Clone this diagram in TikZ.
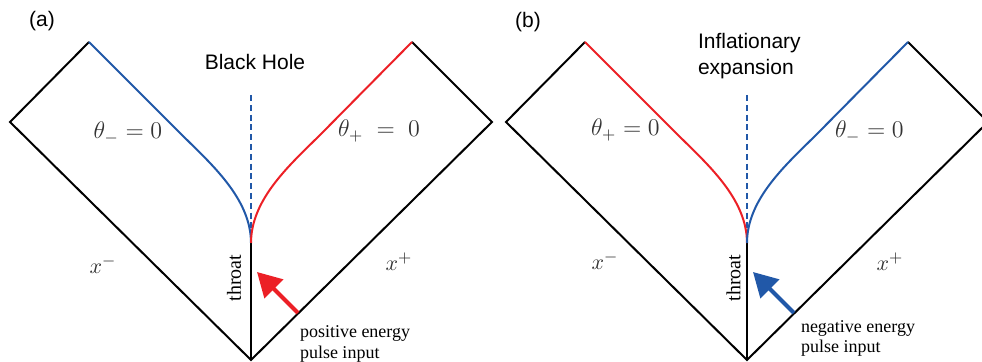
\documentclass[tikz,border=0pt]{standalone}
\usepackage{fontspec}
\setmainfont{Liberation Serif}
\setsansfont{Liberation Sans}
\usetikzlibrary{arrows.meta}
\definecolor{hblue}{RGB}{33,88,168}
\definecolor{hred}{RGB}{236,32,38}

\begin{document}
\begin{tikzpicture}[x=0.5pt, y=-0.5pt, line width=1pt, line join=miter,
  horizon/.style={line width=1pt},
  throatdash/.style={hblue, line width=1.2pt, dash pattern=on 3pt off 1.9pt},
  pulse/.style={line width=2pt, -{Triangle[length=12pt,width=13pt]}},
  expr/.style={text=black!80, font=\fontsize{11.5}{14}\selectfont, inner sep=0pt, anchor=base},
  coord/.style={text=black!80, font=\fontsize{11}{13}\selectfont, inner sep=0pt},
  note/.style={font=\fontsize{9}{10.4}\selectfont, align=left, inner sep=0pt, anchor=base west},
  ttl/.style={font=\sffamily\fontsize{10.5}{13}\selectfont, inner sep=0pt}]
\useasboundingbox (0,0) rectangle (982,362);
\clip (0,0) rectangle (982,362);

% (a) black hole
\coordinate (aB) at (251,360);
\coordinate (aL) at (10,122);
\coordinate (aR) at (492,122);
\coordinate (aTL) at (89,42);
\coordinate (aTR) at (412,42);
\coordinate (aT) at (251,243);
\coordinate (aD) at (251,95);
\draw (aTL) -- (aL) -- (aB) -- (aR) -- (aTR);
\draw (aB) -- (aT);
\draw[throatdash] (aD) -- (aT);
\draw[horizon, hblue] (aT) .. controls +(0,-45) and +(30,30) .. (180,133) -- (aTL);
\draw[horizon, hred] (aT) .. controls +(0,-45) and +(-30,30) .. (322,133) -- (aTR);
\coordinate (apulse) at (298,313);
\coordinate (atip) at (257,272);
\draw[pulse, hred] (apulse) -- (atip);
\node[ttl] (alabel) at (42,21) {(a)};
\node[ttl, anchor=base] (atitle) at (255,70) {Black Hole};
\node[expr] (athm) at (128,139) {$\theta_- = 0$};
\node[expr] (athp) at (379,137) {$\theta_+ \;=\; 0$};
\node[coord] (axm) at (103,265) {$x^-$};
\node[coord] (axp) at (399,262) {$x^+$};
\node[rotate=90, font=\fontsize{10}{12}\selectfont, inner sep=0pt] (athroat) at (234,278) {throat};
\node[note] (anote) at (299,358.5) {positive energy\\pulse input};

% (b) inflation
\coordinate (bB) at (747,360);
\coordinate (bL) at (506,122);
\coordinate (bR) at (988,122);
\coordinate (bTL) at (585,42);
\coordinate (bTR) at (908,42);
\coordinate (bT) at (747,243);
\coordinate (bD) at (747,95);
\draw (bTL) -- (bL) -- (bB) -- (bR) -- (bTR);
\draw (bB) -- (bT);
\draw[throatdash] (bD) -- (bT);
\draw[horizon, hred] (bT) .. controls +(0,-45) and +(30,30) .. (676,133) -- (bTL);
\draw[horizon, hblue] (bT) .. controls +(0,-45) and +(-30,30) .. (818,133) -- (bTR);
\coordinate (bpulse) at (794,313);
\coordinate (btip) at (753,272);
\draw[pulse, hblue] (bpulse) -- (btip);
\node[ttl] (blabel) at (528,22) {(b)};
\node[ttl, align=left, anchor=north west] (btitle) at (697,32.5) {Inflationary\\expansion};
\node[expr] (bthp) at (625.5,136) {$\theta_+ = 0$};
\node[expr] (bthm) at (869.5,138) {$\theta_- = 0$};
\node[coord] (bxm) at (605,261) {$x^-$};
\node[coord] (bxp) at (890,262) {$x^+$};
\node[rotate=90, font=\fontsize{10}{12}\selectfont, inner sep=0pt] (bthroat) at (733.5,278) {throat};
\node[note] (bnote) at (800,353) {negative energy\\pulse input};
\end{tikzpicture}
\end{document}
